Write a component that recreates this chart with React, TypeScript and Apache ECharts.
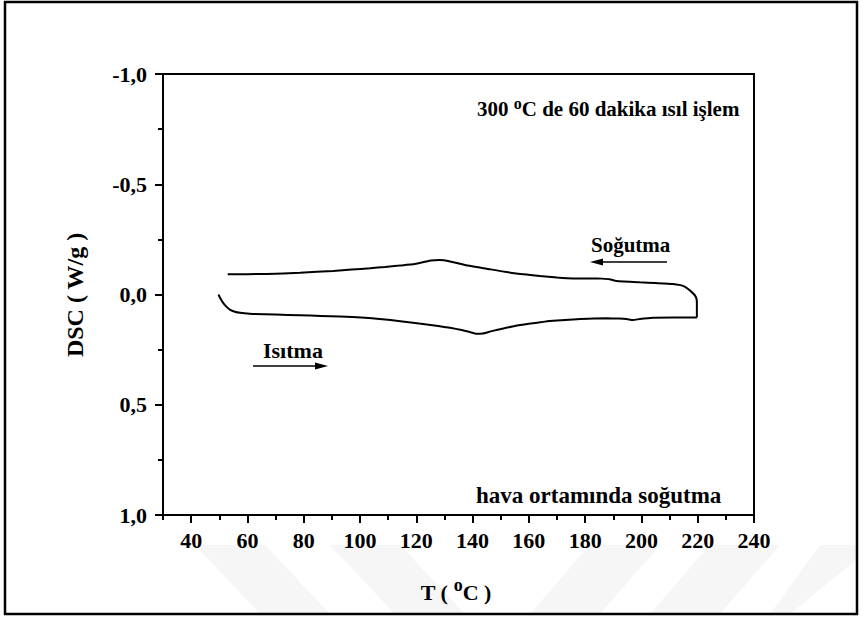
import React, { useEffect, useRef } from 'react';
import * as echarts from 'echarts';

// Heating run (Isıtma), left to right
const heatingT = [49.7, 50.5, 51.5, 52.6, 53.9, 55.5, 57.4, 60, 62.1, 70, 78.7, 86, 92.9, 101.8, 108, 113.6, 121, 127.8, 132, 136.1, 139, 141.4, 143.5, 146.8, 151, 155.0, 160, 165.7, 170, 175.7, 181, 187.6, 192, 194.7, 197.0, 199.4, 204.1, 211.2, 219.7];
const heatingDSC = [0.0, 0.02, 0.04, 0.056, 0.07, 0.078, 0.083, 0.086, 0.088, 0.091, 0.094, 0.097, 0.100, 0.105, 0.112, 0.12, 0.132, 0.143, 0.151, 0.161, 0.170, 0.178, 0.177, 0.166, 0.154, 0.143, 0.133, 0.123, 0.118, 0.113, 0.110, 0.108, 0.109, 0.111, 0.116, 0.111, 0.105, 0.104, 0.104];

// Cooling run (Soğutma), right to left
const coolingT = [219.7, 219.7, 219.3, 217.7, 214.8, 211.2, 205, 199.4, 191.1, 188.7, 186, 184.0, 175.7, 170, 163.9, 155.0, 145.5, 137.3, 131.3, 128.4, 126.5, 124.3, 119.5, 114, 108.9, 103.6, 97, 90.5, 78.7, 66.9, 53.0];
const coolingDSC = [0.104, 0.033, 0.01, -0.013, -0.039, -0.048, -0.052, -0.055, -0.061, -0.069, -0.072, -0.073, -0.073, -0.077, -0.084, -0.096, -0.116, -0.134, -0.152, -0.156, -0.155, -0.152, -0.138, -0.131, -0.125, -0.119, -0.113, -0.107, -0.099, -0.093, -0.092];

const xMajorTicks = [40, 60, 80, 100, 120, 140, 160, 180, 200, 220, 240];
const xMinorTicks = [30, 50, 70, 90, 110, 130, 150, 170, 190, 210, 230];

const FONT = '"Liberation Serif", "Times New Roman", serif';
const font = (size: number) => `bold ${size}px ${FONT}`;

export default function App() {
  const ref = useRef<HTMLDivElement>(null);
  useEffect(() => {
    const chart = echarts.init(ref.current!, null, { renderer: 'svg' });
    const heat = heatingT.map((t, i) => [t, heatingDSC[i]]);
    const cool = coolingT.map((t, i) => [t, coolingDSC[i]]);
    const tickLine = { color: '#000', width: 2 };
    const wm = '#f6f6f6';
    chart.setOption({
      animation: false,
      backgroundColor: '#fff',
      textStyle: { fontFamily: FONT },
      grid: { left: 163, top: 74, width: 591, height: 441, show: true, borderColor: '#000', borderWidth: 2, backgroundColor: 'transparent' },
      xAxis: [
        {
          type: 'value', min: 30, max: 240, interval: 10,
          axisLine: { show: true, onZero: false, lineStyle: tickLine },
          axisTick: { show: true, length: 8, customValues: xMajorTicks, lineStyle: tickLine },
          axisLabel: { customValues: xMajorTicks, margin: 14, color: '#000', fontSize: 22, fontWeight: 'bold', fontFamily: FONT },
          splitLine: { show: false },
        },
        {
          type: 'value', min: 30, max: 240, interval: 10, position: 'bottom',
          axisLine: { show: false, onZero: false },
          axisTick: { show: true, length: 5, customValues: xMinorTicks, lineStyle: tickLine },
          axisLabel: { show: false },
          splitLine: { show: false },
        },
      ],
      yAxis: {
        type: 'value', inverse: true, min: -1, max: 1, interval: 0.5,
        axisLine: { show: true, onZero: false, lineStyle: tickLine },
        axisTick: { show: true, length: 8, lineStyle: tickLine },
        minorTick: { show: true, splitNumber: 2, length: 5, lineStyle: tickLine },
        axisLabel: {
          formatter: (v: number) => v.toFixed(1).replace('.', ','),
          margin: 16, color: '#000', fontSize: 22, fontWeight: 'bold', fontFamily: FONT,
        },
        splitLine: { show: false },
        minorSplitLine: { show: false },
      },
      series: [
        { name: 'Isıtma', type: 'line', data: heat, symbol: 'none', smooth: 0.15, lineStyle: { color: '#000', width: 2 }, z: 3 },
        { name: 'Soğutma', type: 'line', data: cool, symbol: 'none', smooth: 0.15, lineStyle: { color: '#000', width: 2 }, z: 3 },
      ],
      graphic: [
        // faint watermark bands
        { type: 'polygon', z: 0, silent: true, shape: { points: [[195, 545], [265, 545], [330, 614], [260, 614]] }, style: { fill: wm } },
        { type: 'polygon', z: 0, silent: true, shape: { points: [[330, 545], [400, 545], [465, 614], [395, 614]] }, style: { fill: wm } },
        { type: 'polygon', z: 0, silent: true, shape: { points: [[590, 545], [660, 545], [600, 614], [530, 614]] }, style: { fill: wm } },
        { type: 'polygon', z: 0, silent: true, shape: { points: [[710, 545], [780, 545], [720, 614], [650, 614]] }, style: { fill: wm } },
        { type: 'polygon', z: 0, silent: true, shape: { points: [[820, 545], [856, 545], [856, 560], [790, 614], [770, 614]] }, style: { fill: wm } },
        // outer frame
        { type: 'rect', z: 10, shape: { x: 5, y: 2, width: 852, height: 612 }, style: { fill: 'none', stroke: '#000', lineWidth: 2.5 } },
        // annotations
        {
          type: 'text', z: 10, x: 477, y: 109,
          style: {
            text: '300 {s|o}C de 60 dakika ısıl işlem', font: font(21), fill: '#000', verticalAlign: 'middle',
            rich: { s: { font: font(16), fill: '#000', padding: [0, 0, 12, 0] } },
          },
        },
        { type: 'text', z: 10, x: 591, y: 245, style: { text: 'Soğutma', font: font(21), fill: '#000', verticalAlign: 'middle' } },
        { type: 'line', z: 10, shape: { x1: 600, y1: 262, x2: 667, y2: 262 }, style: { stroke: '#000', lineWidth: 1.3 } },
        { type: 'polygon', z: 10, shape: { points: [[590, 262], [603, 258.5], [603, 265.5]] }, style: { fill: '#000' } },
        { type: 'text', z: 10, x: 263, y: 350, style: { text: 'Isıtma', font: font(22), fill: '#000', verticalAlign: 'middle' } },
        { type: 'line', z: 10, shape: { x1: 253, y1: 366, x2: 318, y2: 366 }, style: { stroke: '#000', lineWidth: 1.3 } },
        { type: 'polygon', z: 10, shape: { points: [[328, 366], [315, 362.5], [315, 369.5]] }, style: { fill: '#000' } },
        { type: 'text', z: 10, x: 476, y: 495, style: { text: 'hava ortamında soğutma', font: font(23), fill: '#000', verticalAlign: 'middle' } },
        // axis names
        {
          type: 'text', z: 10, x: 75, y: 295, rotation: Math.PI / 2,
          style: { text: 'DSC ( W/g )', font: font(24), fill: '#000', align: 'center', verticalAlign: 'middle' },
        },
        {
          type: 'text', z: 10, x: 456, y: 592,
          style: {
            text: 'T ( {s|o}C )', font: font(22), fill: '#000', align: 'center', verticalAlign: 'middle',
            rich: { s: { font: font(18), fill: '#000', padding: [0, 0, 14, 0] } },
          },
        },
      ],
    });
    return () => chart.dispose();
  }, []);
  return <div ref={ref} style={{ position: 'absolute', left: 0, top: 0, width: 864, height: 621 }} />;
}
